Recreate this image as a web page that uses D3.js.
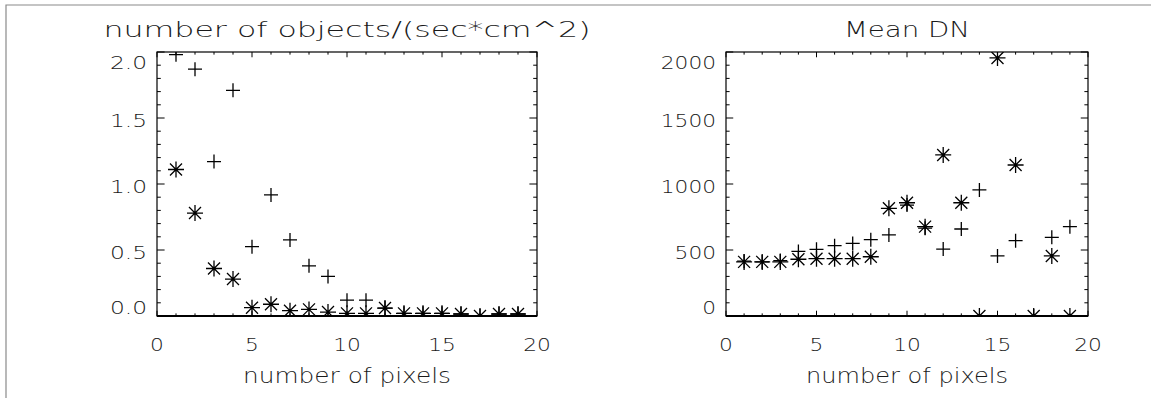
<!DOCTYPE html>
<html><head><meta charset="utf-8">
<script src="https://cdn.jsdelivr.net/npm/d3@7"></script>
<style>
body{margin:0;background:#fff}
text{font-family:'DejaVu Sans','Liberation Sans',sans-serif;font-weight:200;fill:#1a1a1a}
</style>
</head><body>
<svg id="c" width="1151" height="409"></svg>
<script>
// ---- data ----
const pixels = [1,2,3,4,5,6,7,8,9,10,11,12,13,14,15,16,17,18,19];
const xTicks = [0,5,10,15,20];

// left panel: number of objects/(sec*cm^2)
const leftPlus = [1.98,1.87,1.17,1.71,0.525,0.917,0.576,0.38,0.30,0.12,0.12,0.06,0.02,0.02,0.02,0.015,0.0,0.015,0.015];
const leftStar = [1.11,0.78,0.36,0.28,0.063,0.089,0.04,0.05,0.03,0.02,0.02,0.06,0.02,0.02,0.02,0.015,0.0,0.015,0.015];
const leftYTicks = [0.0,0.5,1.0,1.5,2.0];

// right panel: Mean DN
const rightPlus = [415,410,420,489,505,533,550,578,614,840,665,507,659,955,455,571,0,596,677];
const rightStar = [410,410,410,430,434,434,434,449,816,858,677,1220,858,0,1955,1144,0,455,0];
const rightYTicks = [0,500,1000,1500,2000];

const titles = ["number of objects/(sec*cm^2)", "Mean DN"];
const xTitle = "number of pixels";

// ---- drawing ----
const svg = d3.select("#c");
const yTop = 52, yBot = 316;

svg.append("path").attr("d","M6,398V5H1151").attr("fill","none").attr("stroke","#8a8a8a").attr("stroke-width",1.2);

const panels = [
  {x0:157, x1:537, yDomain:[0,2], yTicks:leftYTicks, minorStep:0.1, fmt:d3.format(".1f"),
   title:titles[0], titleW:487, xTitleW:208, plus:leftPlus, star:leftStar, id:"L"},
  {x0:726, x1:1088, yDomain:[0,2000], yTicks:rightYTicks, minorStep:100, fmt:d3.format("d"),
   title:titles[1], titleW:126, xTitleW:202, plus:rightPlus, star:rightStar, id:"R"}
];

function lblLen(s){ let w=0; for(const c of s){ w += (c==="."?9.5:13.8);} return w; }

panels.forEach(p=>{
  const x = d3.scaleLinear().domain([0,20]).range([p.x0,p.x1]);
  const y = d3.scaleLinear().domain(p.yDomain).range([yBot,yTop]);
  const g = svg.append("g");
  const xLen = 0.02*(yBot-yTop), yLen = 0.02*(p.x1-p.x0);

  svg.append("clipPath").attr("id","clip"+p.id).append("rect")
    .attr("x",p.x0).attr("y",yTop).attr("width",p.x1-p.x0).attr("height",yBot-yTop);

  const xMinor = d3.range(0,20.001,1);
  xMinor.forEach(v=>{
    const major = Math.abs(v%5)<1e-9;
    const L = major?xLen:xLen/2;
    g.append("line").attr("x1",x(v)).attr("x2",x(v)).attr("y1",yBot).attr("y2",yBot-L).attr("stroke","#000");
    g.append("line").attr("x1",x(v)).attr("x2",x(v)).attr("y1",yTop).attr("y2",yTop+L).attr("stroke","#000");
  });
  const step = p.minorStep, maj = p.yTicks[1]-p.yTicks[0];
  const yMinor = d3.range(p.yDomain[0], p.yDomain[1]+step/2, step);
  yMinor.forEach(v=>{
    const major = Math.abs(v/maj - Math.round(v/maj))<1e-6;
    const L = major?yLen:yLen/2;
    g.append("line").attr("x1",p.x0).attr("x2",p.x0+L).attr("y1",y(v)).attr("y2",y(v)).attr("stroke","#000");
    g.append("line").attr("x1",p.x1).attr("x2",p.x1-L).attr("y1",y(v)).attr("y2",y(v)).attr("stroke","#000");
  });

  g.append("rect").attr("x",p.x0).attr("y",yTop).attr("width",p.x1-p.x0).attr("height",yBot-yTop)
    .attr("fill","none").attr("stroke","#000").attr("stroke-width",1.2);
  g.append("line").attr("x1",p.x0).attr("x2",p.x1).attr("y1",yBot).attr("y2",yBot).attr("stroke","#000").attr("stroke-width",1.8);

  xTicks.forEach(v=>{
    const s = String(v);
    g.append("text").attr("x",x(v)).attr("y",351).attr("text-anchor","middle")
      .attr("font-size",18).attr("textLength",lblLen(s)).attr("lengthAdjust","spacingAndGlyphs").text(s);
  });
  p.yTicks.forEach((v,i)=>{
    const s = p.fmt(v);
    let off = 2.5;
    if(i===0) off = -8.5;
    if(i===p.yTicks.length-1) off = 10.5;
    g.append("text").attr("x",p.x0-10).attr("y",y(v)+off+6.5).attr("text-anchor","end")
      .attr("font-size",18).attr("textLength",lblLen(s)).attr("lengthAdjust","spacingAndGlyphs").text(s);
  });

  const cx = (p.x0+p.x1)/2;
  g.append("text").attr("x",cx).attr("y",37).attr("text-anchor","middle").attr("font-size",22)
    .attr("textLength",p.titleW).attr("lengthAdjust","spacingAndGlyphs").text(p.title);
  g.append("text").attr("x",cx).attr("y",383).attr("text-anchor","middle").attr("font-size",21)
    .attr("textLength",p.xTitleW).attr("lengthAdjust","spacingAndGlyphs").text(xTitle);

  const m = svg.append("g").attr("clip-path","url(#clip"+p.id+")")
    .attr("stroke","#000").attr("stroke-width",1.3).attr("fill","none");
  const P = 7, S = 8, D = 6;
  m.selectAll("path.plus").data(pixels).join("path").attr("class","plus")
    .attr("d",(d,i)=>{const cx=x(d), cy=y(p.plus[i]);
      return `M${cx-P},${cy}H${cx+P}M${cx},${cy-P}V${cy+P}`;});
  m.selectAll("path.star").data(pixels).join("path").attr("class","star")
    .attr("d",(d,i)=>{const cx=x(d), cy=y(p.star[i]);
      return `M${cx-S},${cy}H${cx+S}M${cx},${cy-S}V${cy+S}M${cx-D},${cy-D}L${cx+D},${cy+D}M${cx-D},${cy+D}L${cx+D},${cy-D}`;});
});
</script>
</body></html>
